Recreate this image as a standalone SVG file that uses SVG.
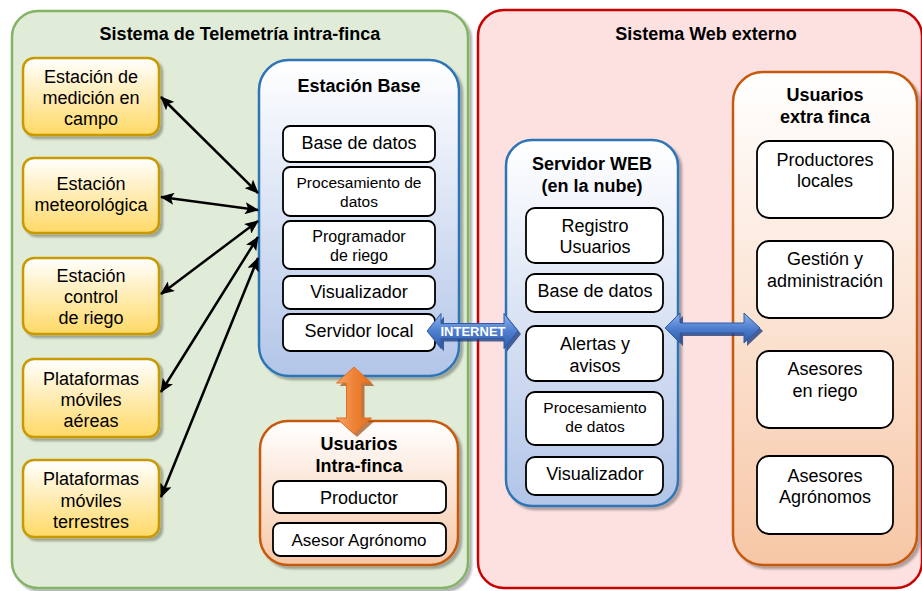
<svg xmlns="http://www.w3.org/2000/svg" width="922" height="591" viewBox="0 0 922 591">
<defs>
<linearGradient id="gY" x1="0" y1="0" x2="0" y2="1"><stop offset="0" stop-color="#ffffff"/><stop offset="1" stop-color="#ffd966"/></linearGradient>
<linearGradient id="gB" x1="0" y1="0" x2="0" y2="1"><stop offset="0" stop-color="#ffffff"/><stop offset="1" stop-color="#b2c5e8"/></linearGradient>
<linearGradient id="gO" x1="0" y1="0" x2="0" y2="1"><stop offset="0" stop-color="#ffffff"/><stop offset="1" stop-color="#f7c7a6"/></linearGradient>
<linearGradient id="gBA" x1="0" y1="0" x2="0" y2="1"><stop offset="0" stop-color="#8fb4ea"/><stop offset="0.5" stop-color="#4f7fcf"/><stop offset="1" stop-color="#2f5aa8"/></linearGradient>
<linearGradient id="gOA" x1="0" y1="0" x2="1" y2="0"><stop offset="0" stop-color="#f7a56a"/><stop offset="0.5" stop-color="#ee8236"/><stop offset="1" stop-color="#e07020"/></linearGradient>
<filter id="sh" x="-10%" y="-10%" width="130%" height="130%"><feDropShadow dx="3" dy="3" stdDeviation="1" flood-color="#000" flood-opacity="0.3"/></filter>
<marker id="ah" viewBox="0 0 14 12" refX="13" refY="6" markerWidth="14" markerHeight="12" markerUnits="userSpaceOnUse" orient="auto-start-reverse"><path d="M0,0 L14,6 L0,12 L3,6 Z" fill="#000"/></marker>
</defs>
<style>
text{font-family:"Liberation Sans",Arial,sans-serif;fill:#000;text-anchor:middle}
.t{font-weight:bold;font-size:18px}
.n{font-size:18px}
.s{font-size:15.5px}
.m{font-size:16px}
.y{fill:url(#gY);stroke:#c99a06;stroke-width:2.5}
.b{fill:url(#gB);stroke:#2e75b6;stroke-width:2.5}
.o{fill:url(#gO);stroke:#c55a11;stroke-width:2.5}
.w{fill:#fff;stroke:#000;stroke-width:1.8}
.c{stroke:#000;stroke-width:2.5;fill:none;marker-start:url(#ah);marker-end:url(#ah)}
</style>

<g id="telemetria">
<rect x="12" y="11" width="456" height="577" rx="26" fill="#e1ecd8" stroke="#82b366" stroke-width="2.5" filter="url(#sh)"/>
<text class="t" x="240" y="40">Sistema de Telemetría intra-finca</text>
</g>
<g id="web">
<rect x="478" y="10" width="444" height="578" rx="26" fill="#fde1e1" stroke="#c80000" stroke-width="2.5"/>
<text class="t" x="706" y="40">Sistema Web externo</text>
</g>

<g id="est-medicion">
<rect class="y" x="23" y="58" width="136" height="77" rx="11" filter="url(#sh)"/>
<text class="n" x="91" y="83">Estación de</text><text class="n" x="91" y="104">medición en</text><text class="n" x="91" y="125">campo</text>
</g>
<g id="est-meteo">
<rect class="y" x="23" y="158" width="136" height="75" rx="11" filter="url(#sh)"/>
<text class="n" x="91" y="190">Estación</text><text class="n" x="91" y="211">meteorológica</text>
</g>
<g id="est-control">
<rect class="y" x="23" y="258" width="136" height="76" rx="11" filter="url(#sh)"/>
<text class="n" x="91" y="282">Estación</text><text class="n" x="91" y="303">control</text><text class="n" x="91" y="324">de riego</text>
</g>
<g id="plat-aereas">
<rect class="y" x="23" y="359" width="136" height="78" rx="11" filter="url(#sh)"/>
<text class="n" x="91" y="385">Plataformas</text><text class="n" x="91" y="406">móviles</text><text class="n" x="91" y="427">aéreas</text>
</g>
<g id="plat-terrestres">
<rect class="y" x="23" y="460" width="136" height="77" rx="11" filter="url(#sh)"/>
<text class="n" x="91" y="485">Plataformas</text><text class="n" x="91" y="507">móviles</text><text class="n" x="91" y="528">terrestres</text>
</g>

<g id="estacion-base">
<rect class="b" x="259" y="60" width="200" height="316" rx="30" filter="url(#sh)"/>
<text class="t" x="359" y="92">Estación Base</text>
<rect class="w" x="283" y="126" width="152" height="36" rx="7"/><text class="n" x="359" y="149">Base de datos</text>
<rect class="w" x="283" y="167" width="152" height="49" rx="7"/><text class="s" x="359" y="188">Procesamiento de</text><text class="s" x="359" y="207">datos</text>
<rect class="w" x="283" y="221" width="152" height="48" rx="7"/><text class="m" x="359" y="242">Programador</text><text class="m" x="359" y="261">de riego</text>
<rect class="w" x="283" y="276" width="152" height="33" rx="7"/><text class="n" x="359" y="298">Visualizador</text>
<rect class="w" x="283" y="314" width="152" height="37" rx="7"/><text class="n" x="359" y="337">Servidor local</text>
</g>

<g id="usuarios-intra">
<rect class="o" x="260" y="421" width="198" height="144" rx="28" filter="url(#sh)"/>
<text class="t" x="359" y="450">Usuarios</text><text class="t" x="359" y="472">Intra-finca</text>
<rect class="w" x="273" y="481" width="173" height="32" rx="7"/><text class="n" x="359" y="504">Productor</text>
<rect class="w" x="273" y="523" width="173" height="33" rx="7"/><text style="font-size:17px" x="359" y="546">Asesor Agrónomo</text>
</g>

<g id="servidor-web">
<rect class="b" x="506" y="140" width="172" height="366" rx="26" filter="url(#sh)"/>
<text class="t" x="592" y="170">Servidor WEB</text><text class="t" x="592" y="192">(en la nube)</text>
<rect class="w" x="526" y="208" width="137" height="55" rx="9"/><text class="n" x="595" y="232">Registro</text><text class="n" x="595" y="253">Usuarios</text>
<rect class="w" x="526" y="274" width="137" height="38" rx="9"/><text class="n" x="595" y="297">Base de datos</text>
<rect class="w" x="526" y="326" width="137" height="55" rx="9"/><text class="n" x="595" y="350">Alertas y</text><text class="n" x="595" y="372">avisos</text>
<rect class="w" x="526" y="392" width="137" height="53" rx="9"/><text class="s" x="595" y="413">Procesamiento</text><text class="s" x="595" y="432">de datos</text>
<rect class="w" x="526" y="457" width="137" height="38" rx="9"/><text class="n" x="595" y="480">Visualizador</text>
</g>

<g id="usuarios-extra">
<rect class="o" x="733" y="72" width="184" height="493" rx="30" filter="url(#sh)"/>
<text class="t" x="825" y="101">Usuarios</text><text class="t" x="825" y="123">extra finca</text>
<rect class="w" x="757" y="141" width="136" height="77" rx="12"/><text class="n" x="825" y="166">Productores</text><text class="n" x="825" y="187">locales</text>
<rect class="w" x="757" y="241" width="136" height="77" rx="12"/><text class="n" x="825" y="265">Gestión y</text><text class="n" x="825" y="287">administración</text>
<rect class="w" x="757" y="351" width="136" height="77" rx="12"/><text class="n" x="825" y="375">Asesores</text><text class="n" x="825" y="397">en riego</text>
<rect class="w" x="757" y="456" width="136" height="78" rx="12"/><text class="n" x="825" y="482">Asesores</text><text class="n" x="825" y="503">Agrónomos</text>
</g>

<g id="connectors">
<line class="c" x1="161" y1="97" x2="258" y2="193"/>
<line class="c" x1="161" y1="197" x2="258" y2="210"/>
<line class="c" x1="161" y1="294" x2="258" y2="221"/>
<line class="c" x1="161" y1="392" x2="258" y2="237"/>
<line class="c" x1="161" y1="497" x2="258" y2="258"/>
<g id="internet">
<polygon points="430,334 444,316.5 444,326.5 507,326.5 507,316.5 521,334 507,351.5 507,341.5 444,341.5 444,351.5" fill="#1f3f80" opacity="0.8"/>
<polygon points="427,331 441,313.5 441,323.5 504,323.5 504,313.5 518,331 504,348.5 504,338.5 441,338.5 441,348.5" fill="url(#gBA)" stroke="#2f5aa8" stroke-width="1"/>
<text x="473" y="336" style="font-size:13px;font-weight:bold;fill:#fff">INTERNET</text>
</g>
<g id="web-usuarios">
<polygon points="668,331 683,316 683,326 747,326 747,316 763,331 747,346 747,336 683,336 683,346" fill="#1f3f80" opacity="0.8"/>
<polygon points="665,328 680,313 680,323 744,323 744,313 760,328 744,343 744,333 680,333 680,343" fill="url(#gBA)" stroke="#2f5aa8" stroke-width="1"/>
</g>
<g id="base-usuarios">
<polygon points="357,370 374.5,386 364.5,386 364.5,421 374.5,421 357,437 339.5,421 349.5,421 349.5,386 339.5,386" fill="#a04a10" opacity="0.7"/>
<polygon points="354,367 371.5,383 361.5,383 361.5,418 371.5,418 354,434 336.5,418 346.5,418 346.5,383 336.5,383" fill="url(#gOA)" stroke="#e07020" stroke-width="1"/>
</g>
</g>
</svg>
